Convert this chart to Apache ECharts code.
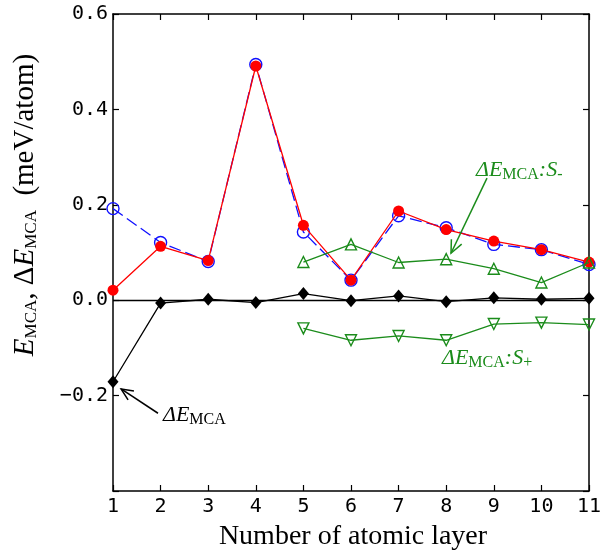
<!DOCTYPE html>
<html><head><meta charset="utf-8">
<script src="https://cdn.jsdelivr.net/npm/echarts@6/dist/echarts.min.js"></script>
<style>html,body{margin:0;padding:0;background:#fff}#c{width:602px;height:555px}</style>
</head><body><div id="c"></div>
<script>
// ---- data ----
const layers = [1, 2, 3, 4, 5, 6, 7, 8, 9, 10, 11];
const eMcaOpen = [0.192, 0.121, 0.081, 0.494, 0.143, 0.042, 0.177, 0.152, 0.117, 0.106, 0.075];
const eMcaFilled = [0.021, 0.113, 0.083, 0.491, 0.157, 0.042, 0.187, 0.148, 0.124, 0.106, 0.080];
const deltaEMca = [-0.171, -0.006, 0.002, -0.005, 0.014, -0.001, 0.009, -0.003, 0.005, 0.002, 0.004];
const layersS = [5, 6, 7, 8, 9, 10, 11];
const deltaSMinus = [0.080, 0.117, 0.079, 0.086, 0.066, 0.037, 0.079];
const deltaSPlus = [-0.059, -0.084, -0.075, -0.084, -0.050, -0.047, -0.051];
const xTickRange = [1, 11, 1];
const yTickRange = [-0.4, 0.6, 0.2];
const xTitle = 'Number of atomic layer';

const zip = (xs, ys) => xs.map((x, i) => [x, ys[i]]);
const SERIF = 'Liberation Serif';
const MONO = 'DejaVu Sans Mono';
const GREEN = '#1b8c1b';

const chart = echarts.init(document.getElementById('c'), null, {renderer: 'canvas'});

const axisLine = {show: true, onZero: false, lineStyle: {color: '#000', width: 1.5}};
const axisTick = {show: true, inside: true, length: 6, lineStyle: {color: '#000', width: 1.2}};

const yFmt = v => {
  if (Math.abs(v - yTickRange[0]) < 1e-9) return '';
  const s = Math.abs(v).toFixed(1);
  return v < -1e-9 ? '\u2212' + s : s;
};

chart.setOption({
  animation: false,
  backgroundColor: '#fff',
  grid: {left: 113, right: 13, top: 14, bottom: 64, containLabel: false, outerBoundsMode: 'none'},
  xAxis: [
    {type: 'value', min: xTickRange[0], max: xTickRange[1], interval: xTickRange[2],
     axisLine, axisTick, splitLine: {show: false},
     axisLabel: {fontFamily: MONO, fontSize: 20, color: '#000', margin: 6, hideOverlap: false,
       formatter: v => String(v)}},
    {type: 'value', position: 'top', min: xTickRange[0], max: xTickRange[1], interval: xTickRange[2],
     axisLine, axisTick, splitLine: {show: false}, axisLabel: {show: false}}
  ],
  yAxis: [
    {type: 'value', min: yTickRange[0], max: yTickRange[1], interval: yTickRange[2],
     axisLine, axisTick, splitLine: {show: false},
     axisLabel: {fontFamily: MONO, fontSize: 20, color: '#000', margin: 5, formatter: yFmt}},
    {type: 'value', position: 'right', min: yTickRange[0], max: yTickRange[1], interval: yTickRange[2],
     axisLine, axisTick, splitLine: {show: false}, axisLabel: {show: false}}
  ],
  series: [
    {type: 'line', data: zip(layers, eMcaOpen), symbol: 'circle', symbolSize: 12,
     itemStyle: {color: 'rgba(0,0,0,0)', borderColor: '#1010ff', borderWidth: 1.4},
     lineStyle: {color: '#1010ff', width: 1.3, type: [12, 5]}, emphasis: {disabled: true}, z: 2},
    {type: 'line', data: zip(layers, eMcaFilled), symbol: 'circle', symbolSize: 11,
     itemStyle: {color: '#ff0000', borderWidth: 0},
     lineStyle: {color: '#ff0000', width: 1.3}, emphasis: {disabled: true}, z: 3},
    {type: 'line', data: zip(layers, deltaEMca), symbol: 'diamond', symbolSize: [11, 13],
     itemStyle: {color: '#000'}, lineStyle: {color: '#000', width: 1.3}, emphasis: {disabled: true}, z: 4,
     markLine: {silent: true, symbol: 'none', label: {show: false}, animation: false,
       lineStyle: {color: '#000', width: 1.3, type: 'solid'}, data: [{yAxis: 0}]}},
    {type: 'line', data: zip(layersS, deltaSMinus), symbol: 'triangle', symbolSize: 11,
     itemStyle: {color: 'rgba(0,0,0,0)', borderColor: GREEN, borderWidth: 1.4},
     lineStyle: {color: GREEN, width: 1.3}, emphasis: {disabled: true}, z: 5},
    {type: 'line', data: zip(layersS, deltaSPlus), symbol: 'triangle', symbolRotate: 180, symbolSize: 11,
     itemStyle: {color: 'rgba(0,0,0,0)', borderColor: GREEN, borderWidth: 1.4},
     lineStyle: {color: GREEN, width: 1.3}, emphasis: {disabled: true}, z: 5}
  ]
});

// ---- annotations ----
const P = (x, y) => chart.convertToPixel({gridIndex: 0}, [x, y]);

function richDefs(color, main, sub) {
  const pad = [Math.round(main * 0.45), 0, 0, 0];
  return {
    it: {fontFamily: SERIF, fontStyle: 'italic', fontSize: main, fill: color, color: color},
    n: {fontFamily: SERIF, fontSize: main, fill: color, color: color},
    sub: {fontFamily: SERIF, fontSize: sub, fill: color, color: color, padding: pad}
  };
}

function arrow(from, to, color, wing) {
  const a = P(from[0], from[1]), b = P(to[0], to[1]);
  const ang = Math.atan2(a[1] - b[1], a[0] - b[0]);
  const w1 = [b[0] + wing * Math.cos(ang + 0.42), b[1] + wing * Math.sin(ang + 0.42)];
  const w2 = [b[0] + wing * Math.cos(ang - 0.42), b[1] + wing * Math.sin(ang - 0.42)];
  return [
    {type: 'line', shape: {x1: a[0], y1: a[1], x2: b[0], y2: b[1]}, style: {stroke: color, lineWidth: 1.5}, silent: true, z: 100},
    {type: 'polyline', shape: {points: [w1, b, w2]}, style: {stroke: color, lineWidth: 1.5, fill: null}, silent: true, z: 100}
  ];
}

function label(text, at, color) {
  const p = P(at[0], at[1]);
  return {type: 'text', x: p[0], y: p[1], silent: true, z: 100,
    style: {text: text, rich: richDefs(color, 22, 16), align: 'left', verticalAlign: 'middle',
      textAlign: 'left', textVerticalAlign: 'middle', fill: color}};
}

const graphics = [];
graphics.push(...arrow([1.945, -0.237], [1.17, -0.186], '#000', 13));
graphics.push(...arrow([8.857, 0.256], [8.101, 0.0985], GREEN, 14));
graphics.push(label('{it|\u0394E}{sub|MCA}', [2.05, -0.241], '#000'));
graphics.push(label('{it|\u0394E}{sub|MCA}{it|:S}{sub|-}', [8.626, 0.2725], GREEN));
graphics.push(label('{it|\u0394E}{sub|MCA}{it|:S}{sub|+}', [7.912, -0.1216], GREEN));

// axis titles
graphics.push({type: 'text', x: 353, y: 537, silent: true,
  style: {text: xTitle, font: '28px "' + SERIF + '"', fill: '#000', align: 'center', verticalAlign: 'middle',
    textAlign: 'center', textVerticalAlign: 'middle'}});
graphics.push({type: 'text', x: 25, y: 205, rotation: Math.PI / 2, silent: true,
  style: {text: '{it|E}{sub|MCA}{n|, \u0394}{it|E}{sub|MCA}{n|\u2002(meV/atom)}',
    rich: richDefs('#000', 29, 17), align: 'center', verticalAlign: 'middle',
    textAlign: 'center', textVerticalAlign: 'middle', fill: '#000'}});

chart.setOption({graphic: {elements: graphics}});
</script>
</body></html>
